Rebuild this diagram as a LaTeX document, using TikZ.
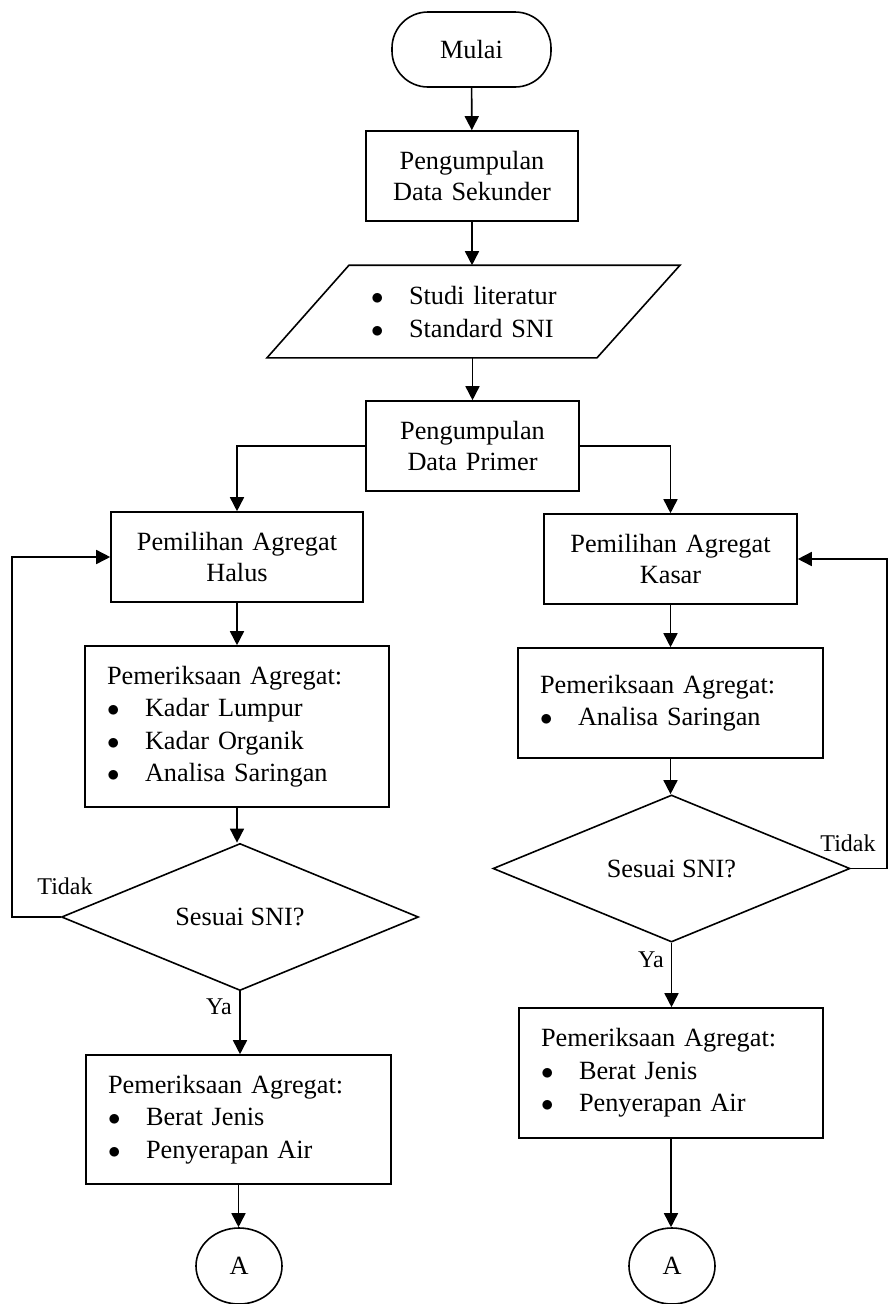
\documentclass[tikz,border=0pt]{standalone}
\usepackage{fontspec}
\setmainfont{Liberation Serif}
\usetikzlibrary{shapes.geometric,shapes.misc,arrows.meta,calc}
\newcommand{\bitem}[1]{\makebox[38pt][l]{$\bullet$}#1}
\begin{document}
\begin{tikzpicture}[x=1pt,y=-1pt,
  font=\fontsize{26.3}{31}\selectfont,
  line width=1.6pt,
  arr/.style={-{Triangle[length=14pt,width=14pt]}},
  terminal/.style={draw, rectangle, rounded corners=36pt, inner sep=0pt},
  box/.style={draw, rectangle, inner sep=0pt, align=center},
  lbox/.style={draw, rectangle, inner xsep=22pt, inner ysep=0pt, align=left, font=\fontsize{26.3}{32.5}\selectfont},
  dec/.style={draw, diamond, inner sep=0pt},
  conn/.style={draw, ellipse, inner sep=0pt, minimum width=86pt, minimum height=76pt},
  lab/.style={font=\fontsize{24}{28}\selectfont, inner sep=0pt}
]
\useasboundingbox (0,0) rectangle (888,1304);

\node[terminal, minimum width=159pt, minimum height=75pt] (mulai) at (471.5,49.5) {Mulai};
\node[box, minimum width=212pt, minimum height=90pt, text width=200pt] (sek) at (472,176) {Pengumpulan\\Data Sekunder};
\node[inner sep=0pt, text width=200pt, align=left, minimum height=91pt, font=\fontsize{26.3}{33}\selectfont] (par) at (471,311.5) {\bitem{Studi literatur}\\\bitem{Standard SNI}};
\draw ([xshift=-204pt]par.south) -- ([xshift=126pt]par.south) -- ([xshift=209pt]par.north) -- ([xshift=-122pt]par.north) -- cycle;
\node[box, minimum width=213pt, minimum height=90pt, text width=200pt] (prim) at (472.5,446) {Pengumpulan\\Data Primer};
\node[box, minimum width=252pt, minimum height=90pt, text width=240pt] (halus) at (237,557) {Pemilihan Agregat\\Halus};
\node[box, minimum width=253pt, minimum height=90pt, text width=240pt] (kasar) at (670.5,559) {Pemilihan Agregat\\Kasar};
\node[lbox, text width=260pt, minimum height=161pt] (b1) at (237,726.5) {Pemeriksaan Agregat:\\\bitem{Kadar Lumpur}\\\bitem{Kadar Organik}\\\bitem{Analisa Saringan}};
\node[lbox, text width=261pt, minimum height=110pt] (b2) at (670.5,703) {Pemeriksaan Agregat:\\\bitem{Analisa Saringan}};
\node[dec, minimum width=357pt, minimum height=128pt] (d1) at (240,917) {Sesuai SNI?};
\node[dec, minimum width=357pt, minimum height=131pt] (d2) at (671.5,868.5) {Sesuai SNI?};
\node[lbox, text width=261pt, minimum height=129pt] (b3) at (238.5,1119.5) {Pemeriksaan Agregat:\\\bitem{Berat Jenis}\\\bitem{Penyerapan Air}};
\node[lbox, text width=260pt, minimum height=130pt] (b4) at (671,1073) {Pemeriksaan Agregat:\\\bitem{Berat Jenis}\\\bitem{Penyerapan Air}};
\node[conn] (cL) at (239,1266) {A};
\node[conn] (cR) at (672,1266) {A};

\node[lab] (t1) at (65,886) {Tidak};
\node[lab] (t2) at (848,843) {Tidak};
\node[lab] (y1) at (219,1007) {Ya};
\node[lab] (y2) at (651,960) {Ya};

\draw[arr] (mulai) -- (sek);
\draw[arr] (sek.south) -- (sek.south |- par.north);
\draw[arr] (prim.north |- par.south) -- (prim.north);
\draw[arr] (prim.west) -| (halus.north);
\draw[arr] (prim.east) -| (kasar.north);
\draw[arr] (halus) -- (b1);
\draw[arr] (kasar) -- (b2);
\draw[arr] (b1.south) -- (b1.south |- d1.north);
\draw[arr] (b2.south) -- (b2.south |- d2.north);
\draw[arr] (d1.west) -- ++(-48.5,0) |- (halus.west);
\draw[arr] (d2.east) -- ++(36,0) |- (kasar.east);
\draw[arr] (d1.south) -- (d1.south |- b3.north);
\draw[arr] (d2.south) -- (d2.south |- b4.north);
\draw[arr] (b3.south) -- (b3.south |- cL.north);
\draw[arr] (b4.south) -- (b4.south |- cR.north);
\end{tikzpicture}
\end{document}
